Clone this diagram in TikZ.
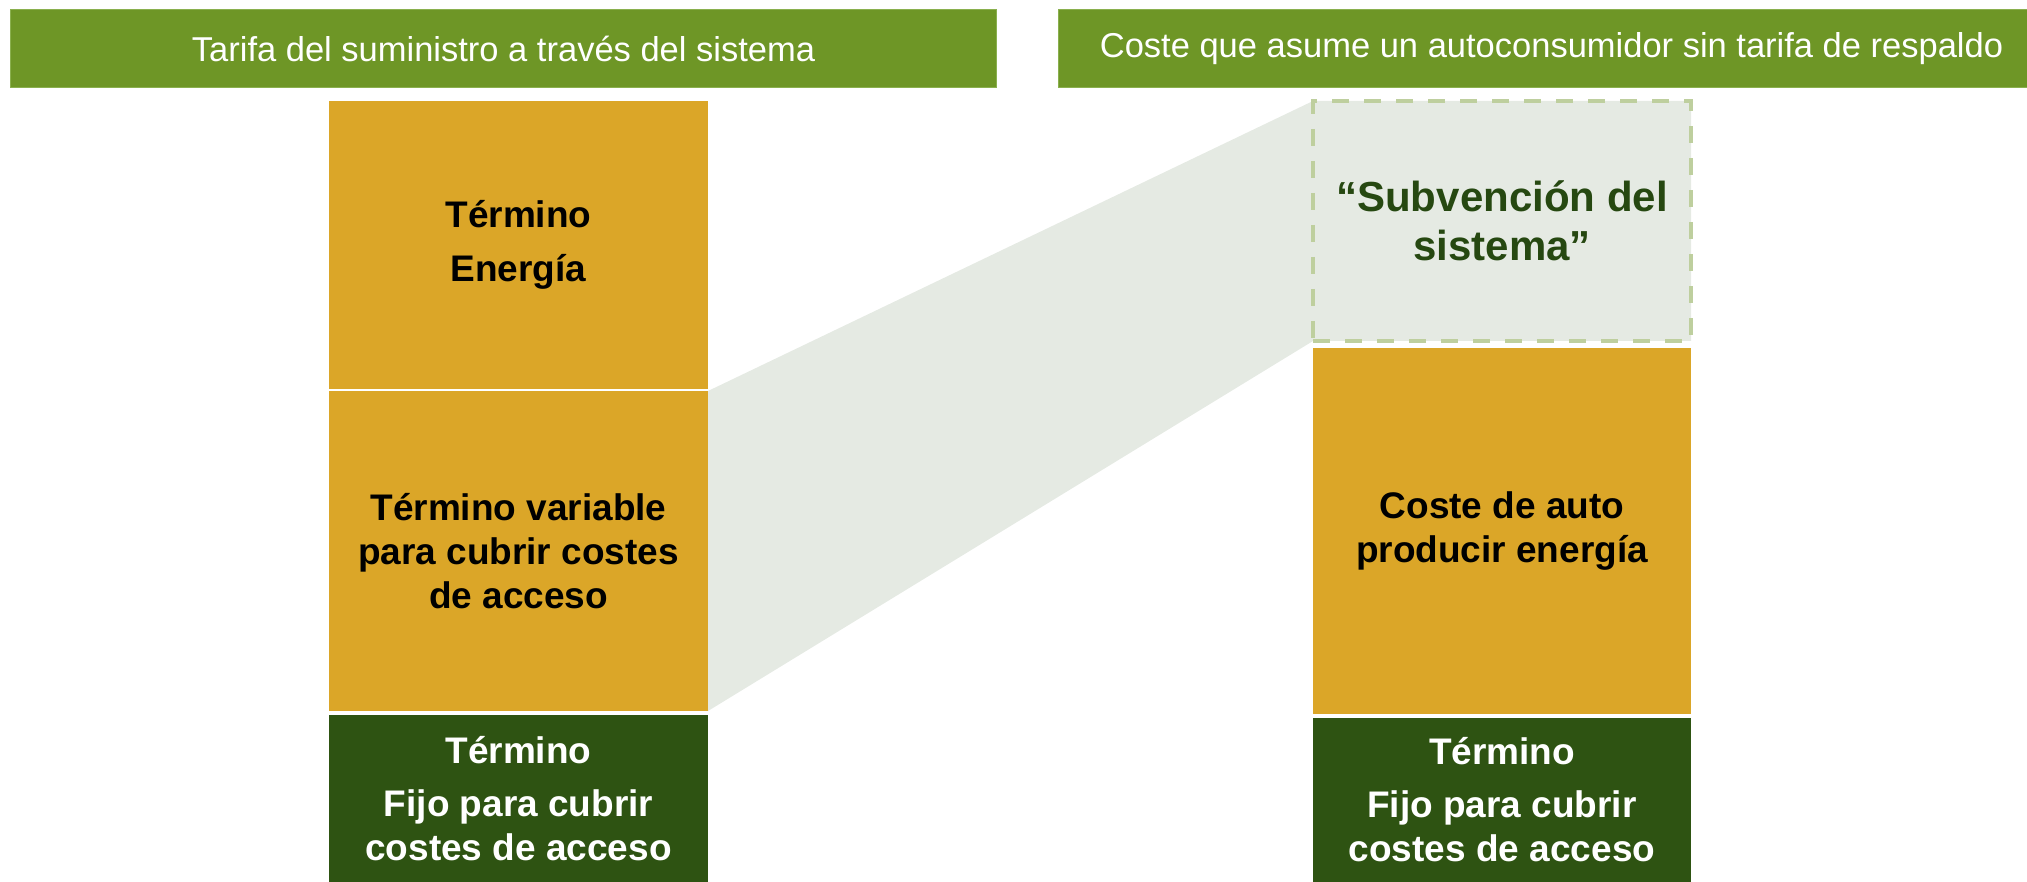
\documentclass[tikz,border=0pt]{standalone}
\usepackage{fontspec}
\setmainfont{Liberation Sans}
\usetikzlibrary{
  positioning,
  backgrounds
}
\definecolor{headgreen}{HTML}{6E9626}
\definecolor{headedge}{HTML}{8AB04E}
\definecolor{gold}{HTML}{DBA628}
\definecolor{darkgreen}{HTML}{2E5312}
\definecolor{shadegrey}{HTML}{E5EAE3}
\definecolor{sage}{HTML}{BECF9E}
\definecolor{subsidytext}{HTML}{264811}
\tikzset{
  header/.style={
    fill=headgreen,
    draw=headedge,
    line width=1pt,
    text=white,
    inner sep=0pt,
    minimum width=986pt,
    minimum height=78pt,
    font=\fontsize{34.5}{40}\selectfont
  },
  costbox/.style={
    fill=gold,
    inner sep=0pt,
    outer sep=0pt,
    minimum width=379pt,
    align=center,
    font=\fontsize{37}{44}\selectfont\bfseries
  },
  fixedbox/.style={
    costbox,
    fill=darkgreen,
    text=white
  },
  subsidybox/.style={
    draw=sage,
    line width=4pt,
    dash pattern=on 17pt off 15pt,
    inner sep=0pt,
    outer sep=0pt,
    align=center,
    text=subsidytext,
    font=\fontsize{42}{49}\selectfont\bfseries
  }
}
\begin{document}
\begin{tikzpicture}[x=1pt, y=-1pt]
  \useasboundingbox (0,0) rectangle (2027,882);
  \node[header, anchor=north west] (supplyhead) at (10,9) {Tarifa del suministro a través del sistema};
  \node[header, anchor=north west] (selfhead) at (1058,9) {Coste que asume un autoconsumidor sin tarifa de respaldo};

  \node[costbox, minimum height=288pt, anchor=north west] (energy) at (329,101) {Término\\[10pt]Energía};
  \node[costbox, minimum height=320pt, below=2pt of energy] (access) {Término variable\\para cubrir costes\\de acceso};
  \node[fixedbox, minimum height=167pt, below=4pt of access] (fixedleft) {Término\\[9pt]Fijo para cubrir\\costes de acceso};

  \node[subsidybox, minimum width=378pt, minimum height=240pt, anchor=north west] (subsidy) at (1313,101) {“Subvención del\\sistema”};
  \node[costbox, minimum width=378pt, minimum height=366pt, below=7pt of subsidy] (selfcost) {Coste de auto\\producir energía};
  \node[fixedbox, minimum width=378pt, minimum height=164pt, below=4pt of selfcost] (fixedright) {Término\\[9pt]Fijo para cubrir\\costes de acceso};

  \begin{scope}[on background layer]
    \fill[shadegrey] (access.north east) -- (subsidy.north west) -- (subsidy.north east)
      -- (subsidy.south east) -- (subsidy.south west) -- (access.south east) -- cycle;
  \end{scope}
\end{tikzpicture}
\end{document}
